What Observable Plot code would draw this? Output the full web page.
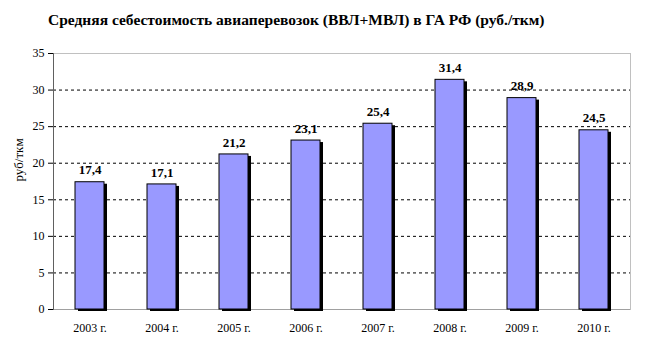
<!DOCTYPE html>
<html><head><meta charset="utf-8">
<script src="https://cdn.jsdelivr.net/npm/d3@7"></script>
<script src="https://cdn.jsdelivr.net/npm/@observablehq/plot@0.6"></script>
</head><body style="margin:0;background:#fff">
<div id="title" style="height:40px;line-height:40px;padding-left:48px;font-weight:bold;font-size:15.5px;color:#000;white-space:nowrap;font-family:'Liberation Serif' !important">Средняя себестоимость авиаперевозок (ВВЛ+МВЛ) в ГА РФ (руб./ткм)</div>
<div id="chart"></div>
<script>
const years = ["2003 г.","2004 г.","2005 г.","2006 г.","2007 г.","2008 г.","2009 г.","2010 г."];
const values = [17.4,17.1,21.2,23.1,25.4,31.4,28.9,24.5];
const labels = ["17,4","17,1","21,2","23,1","25,4","31,4","28,9","24,5"];
const yTicks = [0,5,10,15,20,25,30,35];
const gridTicks = [5,10,15,20,25,30];

const data = years.map((y,i)=>({year:y, value:values[i], label:labels[i]}));
const serif = "'Liberation Serif'";

const chart = Plot.plot({
  width:650, height:311,
  marginTop:13, marginBottom:42, marginLeft:53, marginRight:20,
  style:{fontFamily:serif, fontSize:"12px", color:"#000", background:"#fff"},
  x:{domain:years, paddingInner:0.6, paddingOuter:0.3, label:null},
  y:{domain:[0,35], label:null},
  marks:[
    Plot.ruleY(gridTicks,{stroke:"#000", strokeDasharray:"3,3", strokeWidth:1}),
    Plot.ruleY([35],{stroke:"#c0c0c0"}),
    Plot.ruleY([0],{stroke:"#a0a0a0"}),
    Plot.barY(data,{x:"year", y:"value", fill:"#000", dx:3, dy:2}),
    Plot.barY(data,{x:"year", y:"value", fill:"#9999ff", stroke:"#000", strokeWidth:1}),
    Plot.text(data,{x:"year", y:"value", text:"label", dy:-12, fontWeight:"bold", fontSize:13}),
    Plot.axisX({tickSize:0, tickPadding:14, fontSize:12, label:null}),
    Plot.axisY({ticks:yTicks, tickSize:5, tickPadding:4, fontSize:12, label:null}),
    Plot.frame({anchor:"left", stroke:"#606060"}),
    Plot.frame({anchor:"right", stroke:"#c0c0c0"}),
    Plot.text(["руб/ткм"],{frameAnchor:"left", dx:-35, rotate:-90, fontSize:13})
  ]
});
chart.style.setProperty("font-family", serif, "important");
chart.querySelectorAll("g, text, tspan").forEach(t => t.style.setProperty("font-family", serif, "important"));
document.getElementById("title").style.setProperty("font-family", serif, "important");
document.getElementById("chart").appendChild(chart);
</script>
</body></html>
